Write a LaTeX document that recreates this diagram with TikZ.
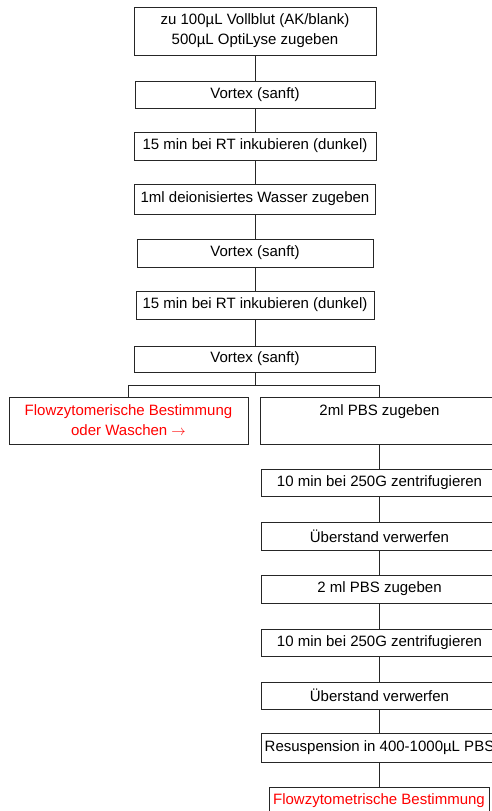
\documentclass[tikz,border=0pt]{standalone}
\usepackage{fontspec}
\setmainfont{Liberation Sans}
\begin{document}
\begin{tikzpicture}[x=1pt,y=-1pt,
  box/.style={draw=black!85, line width=0.9pt, fill=white, inner sep=0pt, align=center,
    font=\fontsize{15}{20}\selectfont},
  redtext/.style={text=red},
  conn/.style={draw=black!85, line width=0.9pt}]
\useasboundingbox (0,0) rectangle (492,811);
\clip (0,0) rectangle (492,811);
\fill[white] (0,0) rectangle (492,811);
% main column
\node[box, minimum width=242pt, minimum height=48pt] (n1) at (255,31) {zu 100µL Vollblut (AK/blank)\\500µL OptiLyse zugeben};
\node[box, minimum width=240pt, minimum height=27pt] (n2) at (255,94.5) {Vortex (sanft)};
\node[box, minimum width=242pt, minimum height=28pt] (n3) at (255,146) {15 min bei RT inkubieren (dunkel)};
\node[box, minimum width=241pt, minimum height=30pt] (n4) at (255,199) {1ml deionisiertes Wasser zugeben};
\node[box, minimum width=236pt, minimum height=28pt] (n5) at (255,253) {Vortex (sanft)};
\node[box, minimum width=238pt, minimum height=28pt] (n6) at (255,305) {15 min bei RT inkubieren (dunkel)};
\node[box, minimum width=241pt, minimum height=26pt] (n7) at (255,359) {Vortex (sanft)};
% branches
\node[box, redtext, minimum width=239pt, minimum height=47pt] (L) at (128.5,420.5) {Flowzytomerische Bestimmung\\oder Waschen $\rightarrow$};
\node[box, minimum width=238pt, minimum height=47pt] (r1) at (379.5,420.5) {2ml PBS zugeben\\\mbox{}};
\node[box, minimum width=237pt, minimum height=27pt] (r2) at (379.5,482.5) {10 min bei 250G zentrifugieren};
\node[box, minimum width=237pt, minimum height=28pt] (r3) at (379.5,536) {Überstand verwerfen};
\node[box, minimum width=237pt, minimum height=28pt] (r4) at (379.5,589) {2 ml PBS zugeben};
\node[box, minimum width=237pt, minimum height=27pt] (r5) at (379.5,642.5) {10 min bei 250G zentrifugieren};
\node[box, minimum width=237pt, minimum height=27pt] (r6) at (379.5,695.5) {Überstand verwerfen};
\node[box, minimum width=237pt, minimum height=29pt] (r7) at (379.5,747.5) {Resuspension in 400-1000µL PBS};
\node[box, redtext, minimum width=220pt, minimum height=27pt] (r8) at (379,800.5) {Flowzytometrische Bestimmung};
% connectors
\draw[conn] (n1) -- (n2);
\draw[conn] (n2) -- (n3);
\draw[conn] (n3) -- (n4);
\draw[conn] (n4) -- (n5);
\draw[conn] (n5) -- (n6);
\draw[conn] (n6) -- (n7);
\coordinate (split) at (255,385);
\draw[conn] (n7.south) -- (split);
\draw[conn] (split) -| (L.north);
\draw[conn] (split) -| (r1.north);
\draw[conn] (r1) -- (r2);
\draw[conn] (r2) -- (r3);
\draw[conn] (r3) -- (r4);
\draw[conn] (r4) -- (r5);
\draw[conn] (r5) -- (r6);
\draw[conn] (r6) -- (r7);
\draw[conn] (r7.south) -- (r7.south |- r8.north);
\end{tikzpicture}
\end{document}
